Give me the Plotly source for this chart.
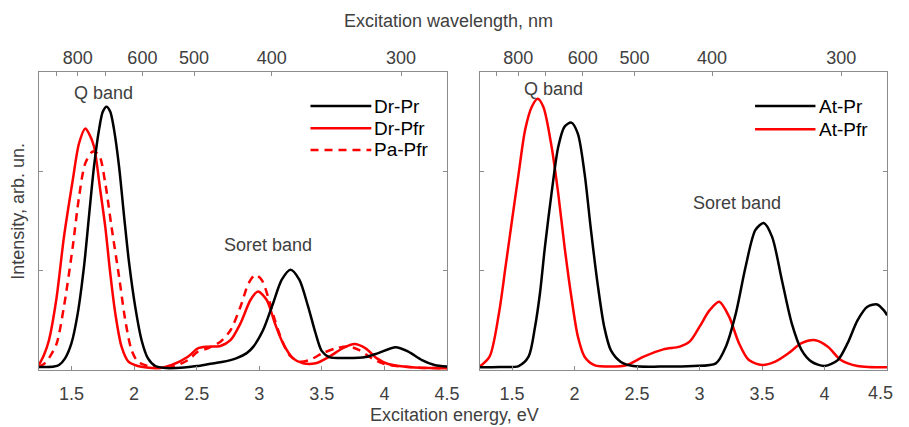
import plotly.graph_objects as go

# ---------------- data ----------------
# Left panel: excitation energy (eV) and intensity (arb. un.)
dr_pr_x = [1.24, 1.30, 1.36, 1.40, 1.45, 1.50, 1.55, 1.60, 1.64, 1.68, 1.72, 1.75, 1.78, 1.81, 1.84,
           1.88, 1.92, 1.96, 2.01, 2.06, 2.11, 2.17, 2.25, 2.40, 2.50, 2.60, 2.70, 2.82, 2.90, 2.95,
           3.03, 3.11, 3.18, 3.25, 3.32, 3.39, 3.45, 3.50, 3.56, 3.69, 3.85, 3.95, 4.09, 4.19, 4.30,
           4.40, 4.50]
dr_pr_y = [0.03, 0.03, 0.035, 0.05, 0.12, 0.27, 0.57, 1.04, 1.55, 2.05, 2.42, 2.60, 2.65, 2.60, 2.42,
           2.05, 1.55, 1.08, 0.63, 0.30, 0.12, 0.04, 0.02, 0.025, 0.04, 0.06, 0.08, 0.12, 0.17, 0.23,
           0.40, 0.67, 0.91, 1.01, 0.91, 0.64, 0.37, 0.19, 0.13, 0.12, 0.13, 0.17, 0.23, 0.185, 0.10,
           0.05, 0.034]

dr_pfr_x = [1.24, 1.28, 1.32, 1.38, 1.44, 1.51, 1.56, 1.61, 1.64, 1.68, 1.73, 1.77, 1.81, 1.85, 1.90,
            1.955, 2.03, 2.10, 2.20, 2.30, 2.43, 2.51, 2.59, 2.69, 2.77, 2.85, 2.93, 2.99, 3.06, 3.125,
            3.19, 3.27, 3.35, 3.45, 3.56, 3.665, 3.76, 3.85, 3.94, 4.03, 4.22, 4.50]
dr_pfr_y = [0.05, 0.15, 0.30, 0.72, 1.34, 1.91, 2.28, 2.43, 2.38, 2.25, 1.81, 1.44, 0.97, 0.57, 0.235,
            0.084, 0.04, 0.025, 0.02, 0.05, 0.134, 0.218, 0.235, 0.242, 0.30, 0.47, 0.705, 0.79, 0.705, 0.47,
            0.268, 0.117, 0.067, 0.067, 0.134, 0.218, 0.262, 0.218, 0.117, 0.06, 0.027, 0.017]

pa_pfr_x = [1.24, 1.28, 1.32, 1.38, 1.44, 1.51, 1.56, 1.61, 1.67, 1.72, 1.77, 1.82, 1.88, 1.93, 1.98,
            2.03, 2.11, 2.20, 2.30, 2.43, 2.51, 2.59, 2.69, 2.77, 2.85, 2.915, 2.967, 3.02, 3.07, 3.125,
            3.18, 3.24, 3.32, 3.40, 3.505, 3.61, 3.716, 3.80, 3.90, 4.00, 4.22, 4.50]
pa_pfr_y = [0.03, 0.06, 0.12, 0.26, 0.64, 1.24, 1.74, 2.08, 2.20, 2.165, 1.88, 1.44, 0.94, 0.50, 0.20,
            0.084, 0.04, 0.02, 0.03, 0.10, 0.185, 0.218, 0.285, 0.40, 0.637, 0.873, 0.957, 0.906, 0.739, 0.503,
            0.302, 0.151, 0.084, 0.10, 0.168, 0.218, 0.235, 0.20, 0.117, 0.06, 0.027, 0.017]

# Right panel
at_pr_x = [1.237, 1.40, 1.553, 1.632, 1.684, 1.723, 1.763, 1.816, 1.87, 1.92, 1.974, 2.026, 2.08, 2.131,
           2.184, 2.237, 2.29, 2.368, 2.47, 2.684, 2.947, 3.13, 3.21, 3.29, 3.368, 3.447, 3.513, 3.58,
           3.658, 3.737, 3.816, 3.895, 4.00, 4.105, 4.184, 4.263, 4.342, 4.42, 4.474, 4.50]
at_pr_y = [0.027, 0.03, 0.04, 0.134, 0.436, 0.77, 1.24, 1.78, 2.25, 2.45, 2.49, 2.38, 1.98, 1.41,
           0.87, 0.436, 0.20, 0.084, 0.04, 0.034, 0.04, 0.067, 0.235, 0.57, 1.04, 1.41, 1.48, 1.34,
           0.906, 0.47, 0.20, 0.084, 0.04, 0.10, 0.27, 0.50, 0.637, 0.66, 0.60, 0.55]

at_pfr_x = [1.237, 1.32, 1.395, 1.448, 1.50, 1.553, 1.605, 1.658, 1.705, 1.75, 1.816, 1.869, 1.92, 1.974,
            2.026, 2.08, 2.158, 2.29, 2.42, 2.553, 2.71, 2.842, 2.92, 3.0, 3.079, 3.157, 3.236, 3.315,
            3.394, 3.50, 3.605, 3.71, 3.816, 3.926, 4.026, 4.13, 4.263, 4.50]
at_pfr_y = [0.03, 0.134, 0.57, 1.04, 1.51, 1.98, 2.42, 2.65, 2.73, 2.65, 2.25, 1.78, 1.24, 0.74,
            0.34, 0.134, 0.05, 0.034, 0.05, 0.134, 0.208, 0.235, 0.285, 0.436, 0.60, 0.687, 0.537, 0.27,
            0.10, 0.05, 0.084, 0.168, 0.27, 0.30, 0.235, 0.10, 0.04, 0.027]

# Axis ticks
energy_ticks = [1.5, 2, 2.5, 3, 3.5, 4, 4.5]
energy_labels = ["1.5", "2", "2.5", "3", "3.5", "4", "4.5"]
wavelength_ticks = [900, 800, 700, 600, 500, 400, 300]
wavelength_labels = ["", "800", "", "600", "500", "400", "300"]
HC = 1239.84  # eV*nm

# ---------------- styling ----------------
W, H = 909, 427
FONT = "Liberation Sans, Arial, sans-serif"
TXT = "#404040"
FRAME = "#8c8c8c"
RED = "#ff0000"
BLACK = "#000000"
LW = 2.5


def px_x(p):
    return p / W


def px_y(p):
    return 1 - p / H


left_dom = [px_x(39.5), px_x(453.5)]
right_dom = [px_x(486.5), px_x(900)]
y_dom = [px_y(370), px_y(72)]
x_range = [1.24, 4.5]

fig = go.Figure()


def add(x, y, color, xa, ya, dash="solid"):
    fig.add_trace(go.Scatter(x=x, y=y, mode="lines", xaxis=xa, yaxis=ya, showlegend=False,
                             line=dict(color=color, width=LW, dash=dash, shape="spline", smoothing=0.8),
                             hoverinfo="skip"))


# black curves are referenced to the top (wavelength) axes, which share the same energy range
add(dr_pr_x, dr_pr_y, BLACK, "x3", "y")
add(dr_pfr_x, dr_pfr_y, RED, "x", "y")
add(pa_pfr_x, pa_pfr_y, RED, "x", "y", dash="8px,6px")
add(at_pr_x, at_pr_y, BLACK, "x4", "y2")
add(at_pfr_x, at_pfr_y, RED, "x2", "y2")

tickfont = dict(family=FONT, size=18, color=TXT)
wl_vals = [HC / w for w in wavelength_ticks]
# right panel: last label drawn as right-anchored text so it stays inside the page
right_energy_labels = energy_labels[:-1] + [""]

common_x = dict(range=x_range, showgrid=False, zeroline=False, showline=True, linecolor=FRAME,
                linewidth=1, ticks="inside", ticklen=4, tickcolor=FRAME, tickfont=tickfont)
common_y = dict(range=[0, 3], showgrid=False, zeroline=False, showline=True, linecolor=FRAME,
                linewidth=1, ticks="inside", ticklen=4, tickcolor=FRAME, mirror="ticks",
                tickvals=[0, 1, 2, 3], showticklabels=False, domain=y_dom)

fig.update_layout(
    width=W, height=H, autosize=False,
    margin=dict(l=0, r=0, t=0, b=0),
    paper_bgcolor="white", plot_bgcolor="white",
    font=dict(family=FONT, size=18, color=TXT),
    xaxis=dict(domain=left_dom, anchor="y", tickvals=energy_ticks, ticktext=energy_labels,
               ticklabelstandoff=7, **common_x),
    xaxis3=dict(domain=left_dom, anchor="y", overlaying="x", side="top", tickvals=wl_vals,
                ticktext=wavelength_labels, **common_x),
    yaxis=dict(anchor="x", **common_y),
    xaxis2=dict(domain=right_dom, anchor="y2", tickvals=energy_ticks, ticktext=right_energy_labels,
                ticklabelstandoff=7, **common_x),
    xaxis4=dict(domain=right_dom, anchor="y2", overlaying="x2", side="top", tickvals=wl_vals,
                ticktext=wavelength_labels, **common_x),
    yaxis2=dict(anchor="x2", **common_y),
)

ann = []
C = dict(xanchor="center", yanchor="middle", showarrow=False, borderpad=0)
ann.append(dict(text="Excitation wavelength, nm", x=px_x(455), y=px_y(21), xref="paper", yref="paper",
                font=dict(size=18), **C))
ann.append(dict(text="Excitation energy, eV", x=px_x(461), y=px_y(415), xref="paper", yref="paper",
                font=dict(size=18), **C))
ann.append(dict(text="Intensity, arb. un.", x=px_x(18), y=px_y(211), xref="paper", yref="paper",
                textangle=-90, font=dict(size=18), **C))
ann.append(dict(text="Q band", x=1.758, y=2.786, xref="x", yref="y", font=dict(size=18), **C))
ann.append(dict(text="Soret band", x=3.073, y=1.259, xref="x", yref="y", font=dict(size=18), **C))
ann.append(dict(text="Q band", x=1.833, y=2.827, xref="x2", yref="y2", font=dict(size=18), **C))
ann.append(dict(text="Soret band", x=3.303, y=1.679, xref="x2", yref="y2", font=dict(size=18), **C))
ann.append(dict(text=energy_labels[-1], x=px_x(907), y=px_y(393), xref="paper", yref="paper",
                xanchor="right", yanchor="middle", showarrow=False, borderpad=0, font=tickfont))

shapes = []
left_legend = [("Dr-Pr", BLACK, "solid", 106), ("Dr-Pfr", RED, "solid", 128.3), ("Pa-Pfr", RED, "8px,6px", 150)]
right_legend = [("At-Pr", BLACK, "solid", 106), ("At-Pfr", RED, "solid", 129.3)]
for items, x0, x1, xt in [(left_legend, 315, 376.7, 378.5), (right_legend, 766, 827.3, 829.5)]:
    for name, col, dash, yy in items:
        shapes.append(dict(type="line", xref="paper", yref="paper", x0=px_x(x0), x1=px_x(x1),
                           y0=px_y(yy), y1=px_y(yy), line=dict(color=col, width=LW, dash=dash)))
        ann.append(dict(text=name, x=px_x(xt), y=px_y(yy), xref="paper", yref="paper", xanchor="left",
                        yanchor="middle", showarrow=False, borderpad=0, font=dict(size=19, color="#000000")))

fig.update_layout(annotations=ann, shapes=shapes)

# pin the graph to the top-left corner of the window and keep anything from enlarging the page
page_js = (
    "document.documentElement.style.margin='0';document.body.style.margin='0';"
    "document.documentElement.style.overflow='hidden';document.body.style.overflow='hidden';"
    "document.querySelectorAll('.plotly-graph-div').forEach(function(d){"
    "d.style.position='fixed';d.style.left='0px';d.style.top='0px';d.style.overflow='hidden';});"
    "document.querySelectorAll('.svg-container').forEach(function(d){d.style.overflow='hidden';});"
)
fig.write_html("out.html", config={"responsive": False, "displayModeBar": False}, post_script=page_js)
